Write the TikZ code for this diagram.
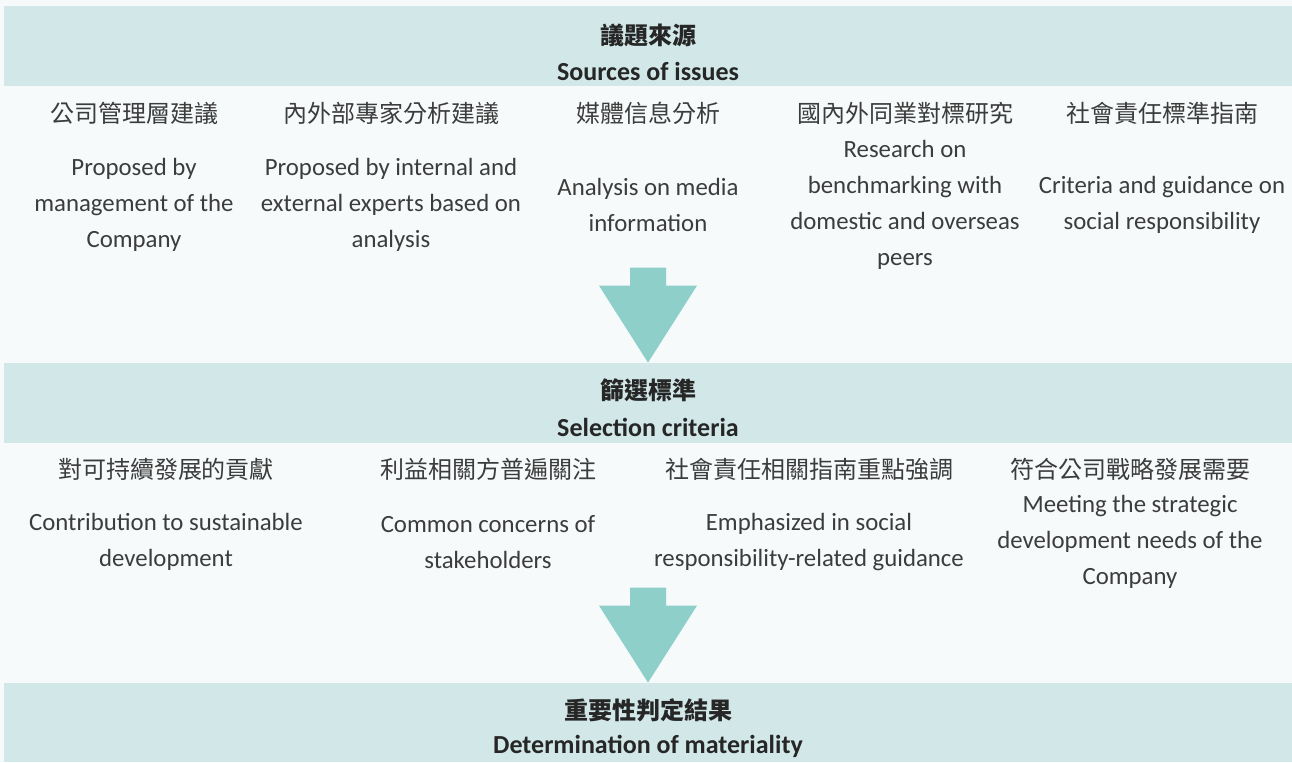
\documentclass[tikz,border=0pt]{standalone}
\usepackage{fontspec}
\setmainfont{Carlito}
\newfontfamily\cjk{Noto Sans CJK TC}
\definecolor{bandteal}{HTML}{D2E8E8}
\definecolor{arrowteal}{HTML}{8ECFCA}
\definecolor{paper}{HTML}{F6FAFA}
\definecolor{ink}{HTML}{3C3C3C}

\tikzset{
  band/.style={fill=bandteal, inner sep=0pt, minimum width=644pt, minimum height=40pt},
  titlecn/.style={font=\cjk\bfseries\fontsize{12}{18}\selectfont, text=black!85, inner sep=0pt},
  titleen/.style={font=\bfseries\fontsize{13}{18}\selectfont, text=black!85, inner sep=0pt},
  item/.style={font=\cjk\fontsize{12}{18}\selectfont, text=ink, inner sep=0pt},
  note/.style={font=\fontsize{12.4}{18}\selectfont, text=ink, align=center, inner sep=0pt}
}

\newcommand{\blockarrow}{
  % Head and shaft, tip at origin
  \fill[arrowteal] (0, 0) -- (-49, -77) -- (-18, -77) -- (-18, -95)
    -- (18, -95) -- (18, -77) -- (49, -77) -- cycle;
}

\begin{document}
\begin{tikzpicture}[x=0.5pt, y=-0.5pt]
    \fill[paper] (0, 0) rectangle (1292, 762);
    \useasboundingbox (0, 0) rectangle (1292, 762);
    \begin{scope} % Sources of issues
      \node[band] (src) at (648, 46) {};
      \node[titlecn] (srccn) at (648, 35) {議題來源};
      \node[titleen] (srcen) at (648, 71) {Sources of issues};
      \node[item] (srcA) at (134, 113) {公司管理層建議};
      \node[item] (srcB) at (391, 113) {內外部專家分析建議};
      \node[item] (srcC) at (648, 113) {媒體信息分析};
      \node[item] (srcD) at (905, 113) {國內外同業對標研究};
      \node[item] (srcE) at (1162, 113) {社會責任標準指南};
      \node[note] (srcAen) at (134, 205) {Proposed by\\management of the\\Company};
      \node[note] (srcBen) at (391, 205) {Proposed by internal and\\external experts based on\\analysis};
      \node[note] (srcCen) at (648, 205) {Analysis on media\\information};
      \node[note] (srcDen) at (905, 205) {Research on\\benchmarking with\\domestic and overseas\\peers};
      \node[note] (srcEen) at (1162, 205) {Criteria and guidance on\\social responsibility};
    \end{scope}
    \begin{scope} % Selection criteria
      \node[band] (crit) at (648, 403) {};
      \node[titlecn] (critcn) at (648, 390) {篩選標準};
      \node[titleen] (criten) at (648, 427) {Selection criteria};
      \node[item] (critA) at (166, 469) {對可持續發展的貢獻};
      \node[item] (critB) at (488, 469) {利益相關方普遍關注};
      \node[item] (critC) at (809, 469) {社會責任相關指南重點強調};
      \node[item] (critD) at (1130, 469) {符合公司戰略發展需要};
      \node[note] (critAen) at (166, 542) {Contribution to sustainable\\development};
      \node[note] (critBen) at (488, 542) {Common concerns of\\stakeholders};
      \node[note] (critCen) at (809, 542) {Emphasized in social\\responsibility-related guidance};
      \node[note] (critDen) at (1130, 542) {Meeting the strategic\\development needs of the\\Company};
    \end{scope}
    \begin{scope} % Determination of materiality
      \node[band, minimum height=39.5pt] (mat) at (648, 722.5) {};
      \node[titlecn] (matcn) at (648, 710) {重要性判定結果};
      \node[titleen] (maten) at (648, 746) {Determination of materiality};
    \end{scope}
    \begin{scope}[shift={(crit.north)}] % Arrow into criteria
      \blockarrow
    \end{scope}
    \begin{scope}[shift={(mat.north)}] % Arrow into materiality
      \blockarrow
    \end{scope}
  \end{tikzpicture}
\end{document}
